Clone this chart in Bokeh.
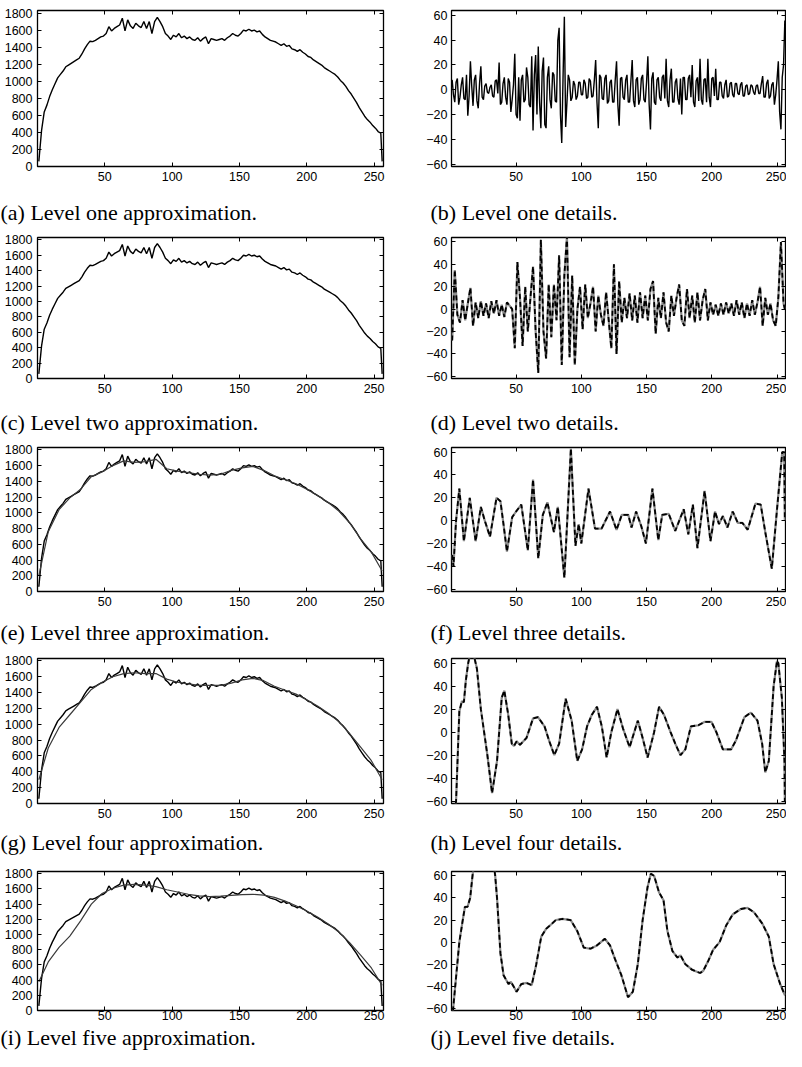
from bokeh.plotting import figure
from bokeh.layouts import column, row
from bokeh.models import Range1d, LinearAxis, FixedTicker, Title
from bokeh.embed import file_html
from bokeh.resources import INLINE

# ---------------- data ----------------
x_ticks = [50, 100, 150, 200, 250]
approx_ticks = [0, 200, 400, 600, 800, 1000, 1200, 1400, 1600, 1800]
detail_ticks = [-60, -40, -20, 0, 20, 40, 60]

captions_left = ["(a) Level one approximation.", "(c) Level two approximation.",
                 "(e) Level three approximation.", "(g) Level four approximation.",
                 "(i) Level five approximation."]
captions_right = ["(b) Level one details.", "(d) Level two details.",
                  "(f) Level three details.", "(h) Level four details.",
                  "(j) Level five details."]

# original signal (sampled every 2 positions, plus last sample)
signal_x = list(range(1, 256, 2)) + [256]
signal_y = [60, 420, 640, 720, 820, 900, 970, 1040, 1080, 1120,
            1170, 1190, 1210, 1230, 1250, 1270, 1320, 1380, 1430, 1470,
            1465, 1480, 1500, 1520, 1530, 1560, 1640, 1590, 1620, 1640,
            1660, 1740, 1590, 1720, 1650, 1620, 1680, 1650, 1630, 1700,
            1620, 1700, 1560, 1700, 1750, 1700, 1640, 1560, 1530, 1490,
            1540, 1520, 1560, 1510, 1530, 1500, 1520, 1490, 1480, 1510,
            1470, 1500, 1520, 1440, 1500, 1490, 1480, 1490, 1500, 1480,
            1510, 1530, 1560, 1540, 1530, 1560, 1600, 1590, 1610, 1590,
            1600, 1580, 1590, 1550, 1520, 1500, 1480, 1470, 1460, 1440,
            1420, 1440, 1410, 1420, 1380, 1370, 1350, 1370, 1340, 1320,
            1290, 1280, 1250, 1230, 1210, 1190, 1160, 1140, 1120, 1100,
            1080, 1050, 1010, 980, 940, 890, 850, 800, 750, 690,
            640, 590, 550, 520, 480, 450, 410, 390,
            60]

# smooth approximations (levels 3-5), sampled every 8 positions
approx_x = [1, 8, 16, 24, 32, 40, 48, 56, 64, 72, 80, 88, 96, 104, 112, 120, 128,
            136, 144, 152, 160, 168, 176, 184, 192, 200, 208, 216, 224, 232, 240, 248, 256]
approx3_y = [200, 760, 1040, 1190, 1300, 1460, 1520, 1600, 1660, 1640, 1650, 1680, 1560,
             1530, 1510, 1490, 1480, 1490, 1540, 1570, 1590, 1540, 1470, 1420, 1370, 1300,
             1220, 1130, 1020, 870, 670, 500, 260]
approx4_y = [300, 700, 960, 1120, 1280, 1440, 1530, 1600, 1640, 1650, 1640, 1640, 1570,
             1530, 1510, 1490, 1490, 1490, 1520, 1560, 1580, 1550, 1480, 1430, 1380, 1310,
             1230, 1140, 1030, 880, 710, 540, 300]
approx5_y = [380, 640, 830, 980, 1180, 1400, 1540, 1610, 1650, 1660, 1650, 1630, 1590,
             1560, 1530, 1510, 1500, 1505, 1515, 1525, 1530, 1520, 1490, 1440, 1380, 1310,
             1230, 1140, 1030, 890, 730, 560, 330]

# level-one details, every position 1..256
detail1_x = list(range(1, 257))
detail1_y = [8, -4, -10, 6, 9, -12, -6, 4, 10, -7, -8, 12, -21, -5, 23, 3,
             -13, 8, 12, -9, -15, 5, 19, -6, -8, 3, 5, -2, -3, 2, 4, -5,
             -6, 7, 8, -3, 22, -12, -10, 5, 10, -6, -12, 9, 6, -18, -8, 4,
             29, -20, -23, 10, -25, 8, 12, -10, -8, 18, 10, -12, -14, 27, -33, 12,
             28, -20, 35, -10, -31, 15, 26, -28, -31, 10, 19, -8, -15, 14, 12, -9,
             -10, 40, 50, -20, -43, 10, 59, -30, -10, 12, 8, -9, -6, 7, 4, -8,
             -5, 6, 6, -4, -4, 8, 5, -7, -6, 9, 7, -6, -5, 8, 24, -10,
             -31, 12, 10, -7, -8, 9, 12, -11, -9, 6, 8, -10, -10, 8, 23, -12,
             -29, 9, 10, -6, -8, 8, 12, -10, -10, 7, 24, -9, -14, 8, 10, -12,
             -8, 9, 12, -8, -10, 6, 27, -12, -32, 9, 14, -10, -12, 8, 10, -6,
             -9, 10, 12, -7, 25, -9, -14, 8, 17, -10, -10, 6, 9, -7, -12, 9,
             -20, 10, 10, -8, -8, 9, 12, -6, 20, -10, -14, 7, 10, -9, 25, -8,
             -12, 8, 9, -10, 25, -6, -14, 9, 10, -5, 17, -8, -8, 6, 6, -5,
             -7, 4, 8, -6, -5, 5, 6, -4, -6, 5, 5, -3, -4, 4, 6, -5,
             -5, 3, 4, -4, -3, 4, 3, -2, -4, 3, 4, -3, -3, 5, 11, -6,
             -6, 5, 8, -7, -5, 4, 6, -12, -4, 8, 23, -18, -32, 10, 20, 56]

# level-two details (every 2 positions, plus last sample)
detail2_x = list(range(1, 256, 2)) + [256]
detail2_y = [-28, 35, -5, -12, 8, -10, 5, 19, -15, 6,
             -8, 7, -6, 5, -8, 7, -4, 8, -6, 4,
             -7, 6, 3, 0, -35, 42, 10, -33, 20, -20,
             10, 38, -20, -57, 62, -20, -44, 22, -25, 22,
             -10, 48, -50, 30, 65, -43, 30, -50, 0, 20,
             -18, 22, -8, 5, 20, -20, 12, -5, -15, 15,
             -10, -35, 40, -40, 25, -12, 10, -8, 14, -10,
             12, -12, 15, -8, 12, -10, 18, 25, -22, 10,
             -8, 15, -12, -20, 12, -6, 10, 22, -10, -15,
             18, -8, 12, -12, 15, -10, 8, 18, -10, 6,
             -5, 4, -6, 5, -5, 6, -4, 5, -6, 8,
             -5, 6, -8, 5, -6, 8, -5, 6, 20, -15,
             10, -5, 5, -10, -15, 10, 60, 5,
             0]

detail3_x = [1, 2, 4, 6.5, 10, 14.5, 19, 23, 26, 30, 35, 38, 40, 43, 47, 50, 54, 59, 63, 67,
             70.5, 74, 79, 82, 87, 92, 95.5, 98, 100, 105.5, 110.5, 115.5, 122, 127, 131, 136,
             138.5, 142, 146, 149.5, 154.5, 159, 162, 167, 172, 178.5, 182, 185.5, 189, 194.5,
             199, 202.5, 205.5, 208.5, 212, 216, 220, 223.5, 227.5, 233.5, 237.5, 241, 246,
             250, 254, 255.5, 256]
detail3_y = [-30, -40, 0, 28, -18, 20, -18, 12, 0, -14, 20, 17, 0, -27, 3, 8, 14, -26, 36, -33,
             5, 16, -10, 12, -50, 63, -22, -3, -20, 28, -7, -7, 8, -8, 5, 5,
             -6, 8, -5, -20, 28, -17, 5, 6, -9, 10, -12, 14, -24, 26,
             -18, 8, -3, 4, -6, 8, -2, -2, -8, 15, 14, -10, -42,
             10, 60, 60, 0]

detail4_x = [1, 4, 6.5, 8.5, 10, 11.5, 13.3, 16, 19, 20, 23, 28, 31.6, 35.4, 39, 41, 44, 46.7,
             48.4, 50.4, 53, 58, 63, 66.8, 71.8, 75.5, 79.3, 83, 88, 92.6, 96.9, 100.6, 104.4,
             108, 112, 115.7, 119.4, 123, 127.7, 132, 137, 143.3, 147, 150.8, 155.8, 159.6,
             163.4, 168.4, 172, 176, 179.7, 184, 189.7, 194.7, 199.7, 203.5, 208.5, 214.8,
             218.6, 225, 230, 235, 238.6, 241, 243.7, 247.4, 250, 251, 253.7, 255.7, 256]
detail4_y = [-90, -60, 18, 27, 26, 45, 60, 75, 60, 55, 20, -20, -53, -25, 30, 36, 15, -10,
             -12, -8, -11, -5, 12, 13, 5, -8, -20, -10, 29, 10, -25, -15, 5,
             15, 22, 5, -22, 0, 20, 3, -13, 10, -5, -22, 0, 22,
             15, 0, -10, -20, -15, 5, 6, 9, 9, 0, -15, -15,
             -7, 13, 17, 10, -10, -35, -25, 40, 62, 60, 30, -25, -60]

detail5_x = [1, 6.5, 9, 10.8, 12.8, 14.8, 16.6, 20, 25, 30, 34, 35.4, 38, 40.4, 44.2, 46, 48,
             50.4, 54, 58, 62, 65.5, 69.3, 73, 76.8, 80.5, 85.6, 91.8, 96.9, 101.9, 107, 112,
             118, 122, 125.7, 130.7, 135.8, 139.5, 143.3, 147, 150.8, 153.3, 155.8, 159.6, 163,
             166, 169.8, 173.6, 176, 179.7, 184.8, 191, 193.5, 197.3, 201, 206, 211, 216,
             222.3, 227.4, 232.4, 238.6, 243.7, 247.4, 252.4, 256]
detail5_y = [-70, 0, 19, 32, 32, 40, 60, 90, 110, 100, 60, 40, -10, -30, -38, -36, -40,
             -45, -38, -37, -39, -20, 5, 12, 16, 20, 21, 20, 10, -5, -6, -3,
             3, -3, -15, -30, -50, -45, -20, 20, 50, 62, 60, 45, 38,
             10, -8, -14, -12, -20, -25, -28, -26, -17, -7, 0, 15, 25,
             30, 31, 27, 17, 5, -20, -38, -48]

# ---------------- layout helpers ----------------
LEFT_W, RIGHT_W = 392, 394
TICK_FONT = "Liberation Sans"
CAP_FONT = "Liberation Serif"


def make_axis_style(ax, ticks, labelled, standoff):
    ax.ticker = FixedTicker(ticks=ticks)
    ax.axis_line_color = None
    ax.major_tick_in = 4
    ax.major_tick_out = 0
    ax.major_tick_line_color = "black"
    ax.major_tick_line_width = 1
    ax.minor_tick_line_color = None
    if labelled:
        ax.major_label_text_font = TICK_FONT
        ax.major_label_text_font_size = "12.5px"
        ax.major_label_text_color = "black"
        ax.major_label_standoff = standoff
    else:
        ax.major_label_text_color = None
        ax.major_label_text_font_size = "1px"
        ax.major_label_standoff = 0


def panel(width, height, bl, br, bt, bb, xr, yr, yticks, xstand, ystand):
    p = figure(width=width, height=height, x_range=Range1d(*xr), y_range=Range1d(*yr),
               output_backend="svg", toolbar_location=None, title=None,
               min_border_left=bl, min_border_right=br,
               min_border_top=bt, min_border_bottom=bb)
    p.grid.visible = False
    p.outline_line_color = "black"
    p.outline_line_width = 1.3
    p.outline_line_alpha = 1
    p.background_fill_color = "white"
    p.border_fill_color = "white"
    make_axis_style(p.xaxis[0], x_ticks, True, xstand)
    make_axis_style(p.yaxis[0], yticks, True, ystand)
    top = LinearAxis()
    make_axis_style(top, x_ticks, False, 0)
    p.add_layout(top, "above")
    right = LinearAxis()
    make_axis_style(right, yticks, False, 0)
    p.add_layout(right, "right")
    return p


def caption(width, height, x0, text):
    t = Title(text=text, align="left", offset=x0, standoff=0, vertical_align="bottom",
              text_font=CAP_FONT, text_font_size="22px", text_font_style="normal",
              text_color="black")
    p = figure(width=width, height=height, x_range=Range1d(0, 1), y_range=Range1d(0, 1),
               output_backend="svg", toolbar_location=None, title=t, title_location="above",
               x_axis_type=None, y_axis_type=None,
               min_border_left=0, min_border_right=0, min_border_top=0, min_border_bottom=0)
    p.grid.visible = False
    p.outline_line_color = None
    p.background_fill_color = "white"
    p.border_fill_color = "white"
    return p


LX = (0, 257)
RX = (0.5, 256.5)
AY = (0, 1830)
DY = (-62, 64)

# per-row geometry: fig height, left (top,bottom), right (top,bottom), x standoff, caption band height
rows_geo = [
    (197, (1, 31), (10, 30), 5, 30),
    (180, (3, 29), (10, 26), 5, 30),
    (180, (6, 25), (10, 26), 5, 30),
    (180, (7, 22), (11, 24), 5, 30),
    (165, (7, 11), (14, 11), 0, 29),
]

approx_series = [None, None, approx3_y, approx4_y, approx5_y]
detail_series = [(detail1_x, detail1_y), (detail2_x, detail2_y), (detail3_x, detail3_y),
                 (detail4_x, detail4_y), (detail5_x, detail5_y)]

items = []
for i, (h, lb, rb, xs, ch) in enumerate(rows_geo):
    left = panel(LEFT_W, h, 37, 9, lb[0], lb[1], LX, AY, approx_ticks, xs, 5)
    left.line(signal_x, signal_y, line_color="black", line_width=1.4)
    if approx_series[i] is not None:
        left.line(approx_x, approx_series[i], line_color="#3a3a3a", line_width=1.2)

    right = panel(RIGHT_W, h, 59, 1, rb[0], rb[1], RX, DY, detail_ticks, xs, 4)
    dx, dy = detail_series[i]
    if i == 0:
        right.line(dx, dy, line_color="black", line_width=1.4)
    else:
        right.line(dx, dy, line_color="#8a8a8a", line_width=2.2)
        right.line(dx, dy, line_color="black", line_width=1.8, line_dash="5 3")

    items.append(row(left, right))
    items.append(row(caption(LEFT_W, ch, 0, captions_left[i]),
                     caption(RIGHT_W, ch, 38, captions_right[i])))

layout = column(*items)
open("out.html", "w").write(file_html(layout, INLINE))
